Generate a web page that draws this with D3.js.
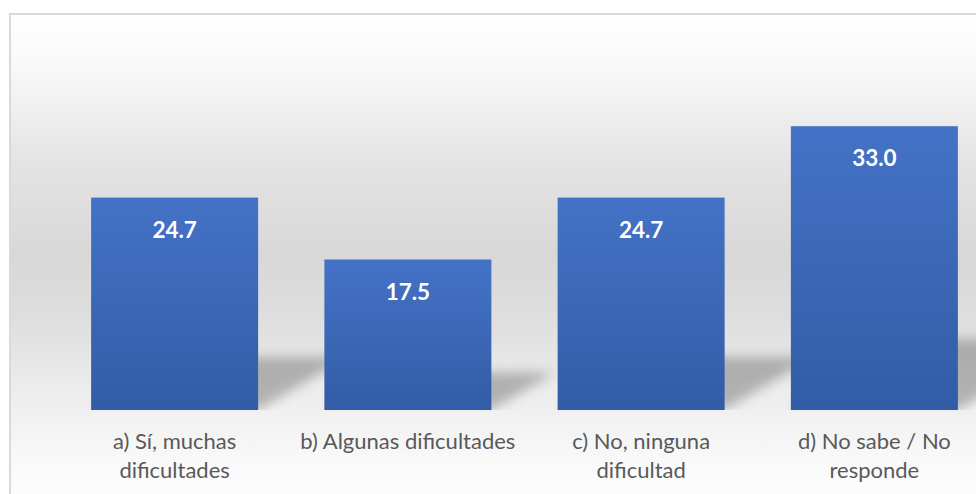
<!DOCTYPE html>
<html>
<head>
<meta charset="utf-8">
<script src="https://cdn.jsdelivr.net/npm/d3@7"></script>
<style>
    body { margin: 0; background: #ffffff; }
    svg { display: block; }
</style>
</head>
<body>
<script>

// categories, values and the label lines shown under each bar
const categories = ["a) Sí, muchas dificultades", "b) Algunas dificultades",
                    "c) No, ninguna dificultad", "d) No sabe / No responde"];
const values = [24.7, 17.5, 24.7, 33.0];
const labelLines = [["a) Sí, muchas", "dificultades"],
                    ["b) Algunas dificultades"],
                    ["c) No, ninguna", "dificultad"],
                    ["d) No sabe / No", "responde"]];

window.onload = function() {
    makeBars();
};


/** Draws the bar chart with shadows and gradient background. */
function makeBars() {

    const w = 976;
    const h = 494;
    const base = 410;

    let svg = d3.select("body")
                .append("svg")
                .attr("width", w)
                .attr("height", h);

    let defs = svg.append("defs");

    // background gradient: white, grey in the middle, white again
    let bg = defs.append("linearGradient")
                 .attr("id", "bg")
                 .attr("gradientUnits", "userSpaceOnUse")
                 .attr("x1", 0).attr("y1", 15)
                 .attr("x2", 0).attr("y2", 494);
    [[0, "#ffffff"], [0.1, "#f9f9f9"], [0.3, "#e4e4e4"], [0.5, "#d8d8d8"],
     [0.62, "#dddddd"], [0.78, "#ececec"], [0.92, "#f8f8f8"], [1, "#fdfdfd"]]
        .forEach(function(s) {
            bg.append("stop").attr("offset", s[0]).attr("stop-color", s[1]);
        });

    // bar gradient, lighter blue at top
    let bar = defs.append("linearGradient")
                  .attr("id", "bar")
                  .attr("x1", 0).attr("y1", 0)
                  .attr("x2", 0).attr("y2", 1);
    bar.append("stop").attr("offset", 0).attr("stop-color", "#4472c6");
    bar.append("stop").attr("offset", 1).attr("stop-color", "#325ca6");

    // blur for the perspective shadow
    defs.append("filter")
        .attr("id", "blur")
        .attr("x", "-20%").attr("y", "-30%")
        .attr("width", "140%").attr("height", "160%")
        .append("feGaussianBlur")
        .attr("stdDeviation", 6);

    defs.append("clipPath")
        .attr("id", "floor")
        .append("rect")
        .attr("x", 0).attr("y", 0)
        .attr("width", w).attr("height", base);

    // chart area with border
    svg.append("rect")
       .attr("x", 10)
       .attr("y", 14)
       .attr("width", w)
       .attr("height", h)
       .attr("fill", "url(#bg)")
       .attr("stroke", "#d9d9d9")
       .attr("stroke-width", 2);

    // scales
    let xScale = d3.scaleBand()
                   .domain(categories)
                   .range([58, 991])
                   .paddingInner(0.284)
                   .paddingOuter(0.142);

    let yScale = d3.scaleLinear()
                   .domain([0, 40])
                   .range([base, base - 344]);

    // shadows lying on the floor, skewed to the upper right
    svg.append("g")
       .attr("clip-path", "url(#floor)")
       .selectAll("polygon")
       .data(values)
       .enter()
       .append("polygon")
       .attr("points", function(d, i) {
            let x0 = xScale(categories[i]);
            let x1 = x0 + xScale.bandwidth();
            let bh = base - yScale(d);
            let dy = bh * 0.25;
            let dx = bh * 0.42;
            return [[x0, base], [x1, base], [x1 + dx, base - dy],
                    [x0 + dx, base - dy]].join(" ");
       })
       .attr("fill", "#000000")
       .attr("fill-opacity", 0.25)
       .attr("filter", "url(#blur)");

    // bars
    svg.selectAll(".bar")
       .data(values)
       .enter()
       .append("rect")
       .attr("class", "bar")
       .attr("x", function(d, i) {return xScale(categories[i])})
       .attr("y", function(d) {return yScale(d)})
       .attr("width", xScale.bandwidth())
       .attr("height", function(d) {return base - yScale(d)})
       .attr("fill", "url(#bar)");

    // value labels inside the bars
    svg.selectAll(".value")
       .data(values)
       .enter()
       .append("text")
       .attr("class", "value")
       .attr("x", function(d, i) {return xScale(categories[i]) + xScale.bandwidth() / 2})
       .attr("y", function(d) {return yScale(d) + 40})
       .attr("text-anchor", "middle")
       .style("font-family", "Lato, 'Open Sans', sans-serif")
       .style("font-weight", "bold")
       .style("font-size", "22.5px")
       .attr("fill", "#ffffff")
       .text(function(d) {return d.toFixed(1)});

    // category labels, one or two lines
    let labels = svg.selectAll(".label")
                    .data(labelLines)
                    .enter()
                    .append("text")
                    .attr("class", "label")
                    .attr("text-anchor", "middle")
                    .style("font-family", "Lato, 'Open Sans', sans-serif")
                    .style("font-size", "22px")
                    .attr("fill", "#595959");

    labels.selectAll("tspan")
          .data(function(d, i) {
              return d.map(function(t) {return {text: t, i: i}});
          })
          .enter()
          .append("tspan")
          .attr("x", function(d) {return xScale(categories[d.i]) + xScale.bandwidth() / 2})
          .attr("y", function(d, j) {return 449 + j * 28.5})
          .text(function(d) {return d.text});
}
</script>
</body>
</html>
